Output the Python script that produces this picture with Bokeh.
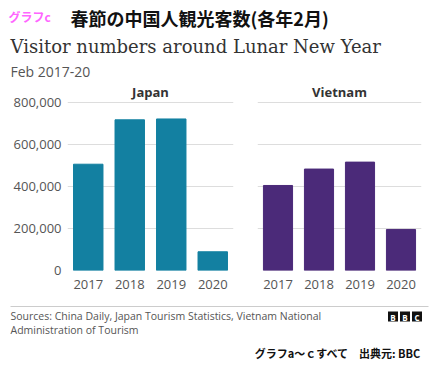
from bokeh.plotting import figure
from bokeh.layouts import column, row
from bokeh.models import Range1d, FactorRange, FixedTicker, NumeralTickFormatter, ColumnDataSource
from bokeh.core.properties import value
from bokeh.embed import file_html
from bokeh.resources import INLINE

# ---- data ----
years = ["2017", "2018", "2019", "2020"]
japan = [505000, 716000, 720000, 89000]
vietnam = [404000, 482000, 515000, 195000]
y_ticks = [0, 200000, 400000, 600000, 800000]

tag = "グラフc"
jp_title = "春節の中国人観光客数(各年2月)"
main_title = "Visitor numbers around Lunar New Year"
subtitle = "Feb 2017-20"
source1 = "Sources: China Daily, Japan Tourism Statistics, Vietnam National"
source2 = "Administration of Tourism"
credit = "グラフa～ｃすべて　出典元: BBC"

W = 436
SANS = "Open Sans"
CJK = "Noto Sans CJK JP"


def canvas(w, h):
    f = figure(width=w, height=h, x_range=Range1d(0, w), y_range=Range1d(h, 0),
               output_backend="svg", toolbar_location=None, min_border=0)
    f.axis.visible = False
    f.grid.visible = False
    f.outline_line_color = None
    return f


# ---- header ----
hdr = canvas(W, 80)
hdr.text(x=[8], y=[16], text=[tag], text_font=value(CJK), text_font_size="12px",
         text_font_style="bold", text_color="#ff66ff", text_baseline="middle")
hdr.text(x=[70], y=[17], text=[jp_title], text_font=value(CJK), text_font_size="18px",
         text_font_style="bold", text_color="#111111", text_baseline="middle")
hdr.text(x=[10], y=[46], text=[main_title], text_font=value("DejaVu Serif"), text_font_size="18px",
         text_color="#333333", text_baseline="middle")
hdr.text(x=[10], y=[70.5], text=[subtitle], text_font=value(SANS), text_font_size="14px",
         text_color="#555555", text_baseline="middle")


# ---- bar panels ----
def panel(name, vals, color, fw, left, right, show_y):
    src = ColumnDataSource(dict(year=years, v=vals))
    f = figure(frame_width=fw, frame_height=169, x_range=FactorRange(*years),
               y_range=Range1d(0, 803000), title=name,
               output_backend="svg", toolbar_location=None,
               min_border_left=left, min_border_right=right, min_border_top=20, min_border_bottom=29)
    f.vbar(x="year", top="v", width=0.71, source=src, color=color)
    f.title.align = "center"
    f.title.text_font = SANS
    f.title.text_font_size = "13px"
    f.title.text_font_style = "bold"
    f.title.text_color = "#333333"
    f.title.offset = 0
    f.title.standoff = 1
    f.outline_line_color = None
    f.xgrid.visible = False
    f.ygrid.grid_line_color = "#dddddd"
    f.ygrid.ticker = FixedTicker(ticks=y_ticks)
    f.yaxis.ticker = FixedTicker(ticks=y_ticks)
    f.yaxis.formatter = NumeralTickFormatter(format="0,0")
    f.yaxis.visible = show_y
    for ax in (f.xaxis[0], f.yaxis[0]):
        ax.axis_line_color = None
        ax.major_tick_line_color = None
        ax.minor_tick_line_color = None
        ax.major_tick_out = 0
        ax.minor_tick_out = 0
        ax.major_label_text_font = SANS
        ax.major_label_text_font_size = "13px"
        ax.major_label_text_color = "#555555"
    f.yaxis.major_label_standoff = 6
    f.xaxis.major_label_standoff = 9
    return f


jp = panel("Japan", japan, "#1380A1", 166, 67, 12, True)
vn = panel("Vietnam", vietnam, "#4b2a79", 164, 12, 15, False)

# ---- footer ----
ftr = canvas(W, 71)
ftr.segment(x0=[10], y0=[7], x1=[428], y1=[7], line_color="#cccccc", line_width=1)
ftr.text(x=[10, 10], y=[16, 30], text=[source1, source2], text_font=value(SANS), text_font_size="10.5px",
         text_color="#555555", text_baseline="middle")
ftr.rect(x=[392.5, 404.5, 416.5], y=[17, 17, 17], width=10, height=10, fill_color="#111111", line_color=None)
ftr.text(x=[392.5, 404.5, 416.5], y=[17.5, 17.5, 17.5], text=["B", "B", "C"], text_font=value(SANS),
         text_font_size="8px", text_font_style="bold", text_color="white",
         text_align="center", text_baseline="middle")
ftr.text(x=[421], y=[53], text=[credit], text_font=value(CJK), text_font_size="11px",
         text_font_style="bold", text_color="#111111", text_align="right", text_baseline="middle")

layout = column(hdr, row(jp, vn), ftr)
open("out.html", "w").write(file_html(layout, INLINE))
